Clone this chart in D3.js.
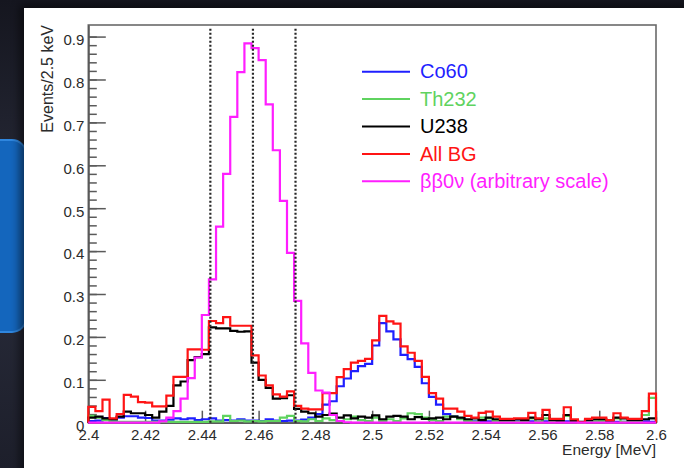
<!DOCTYPE html>
<html>
<head>
<meta charset="utf-8">
<script src="https://cdn.jsdelivr.net/npm/d3@7"></script>
<style>
  html, body { margin: 0; padding: 0; background: #1c1e2a; }
  svg { display: block; font-family: "Liberation Sans", Arial, Helvetica, sans-serif; }
  .axis text { fill: #2b2b2b; font-size: 15px; }
  .axis line, .axis path { stroke: #5a5a5a; stroke-width: 1.5; }
  .hist { fill: none; stroke-width: 2.2; }
</style>
</head>
<body>
<div class="chart"></div>
<script>
/* global d3 */

// binning: 80 bins of 2.5 keV from 2.4 to 2.6 MeV
const binLow = 2.4
const binWidth = 0.0025

const co60 = [
  0.004, 0.005, 0.011, 0.006, 0.012, 0.015, 0.015, 0.012, 0.011, 0.005,
  0.005, 0.007, 0.010, 0.008, 0.010, 0.006, 0.008, 0.010, 0.005, 0.006,
  0.005, 0.008, 0.005, 0.005, 0.004, 0.008, 0.005, 0.004, 0.005, 0.005,
  0.007, 0.012, 0.020, 0.042, 0.050, 0.085, 0.103, 0.120, 0.132, 0.137,
  0.180, 0.232, 0.213, 0.194, 0.158, 0.148, 0.130, 0.092, 0.060, 0.042,
  0.020, 0.015, 0.010, 0.006, 0.003, 0.003, 0.003, 0.002, 0.003, 0.002,
  0.003, 0.002, 0.003, 0.002, 0.003, 0.002, 0.002, 0.003, 0.002, 0.001,
  0.002, 0.002, 0.003, 0.002, 0.002, 0.002, 0.002, 0.002, 0.003, 0.002
]

const th232 = [
  0.016, 0.012, 0.006, 0.003, 0.002, 0.002, 0.002, 0.002, 0.002, 0.002,
  0.002, 0.002, 0.002, 0.002, 0.002, 0.002, 0.002, 0.003, 0.003, 0.016,
  0.004, 0.005, 0.003, 0.004, 0.003, 0.004, 0.004, 0.012, 0.016, 0.004,
  0.003, 0.008, 0.004, 0.010, 0.006, 0.004, 0.008, 0.014, 0.006, 0.004,
  0.012, 0.004, 0.008, 0.004, 0.010, 0.022, 0.020, 0.012, 0.006, 0.004,
  0.014, 0.014, 0.008, 0.004, 0.002, 0.012, 0.010, 0.004, 0.002, 0.002,
  0.002, 0.003, 0.010, 0.002, 0.010, 0.002, 0.003, 0.016, 0.002, 0.000,
  0.002, 0.003, 0.004, 0.001, 0.010, 0.002, 0.003, 0.003, 0.018, 0.058
]

const u238 = [
  0.012, 0.014, 0.010, 0.008, 0.014, 0.026, 0.022, 0.022, 0.018, 0.012,
  0.026, 0.039, 0.087, 0.096, 0.146, 0.153, 0.160, 0.222, 0.220, 0.220,
  0.214, 0.212, 0.213, 0.140, 0.100, 0.081, 0.056, 0.057, 0.064, 0.032,
  0.026, 0.022, 0.014, 0.018, 0.021, 0.012, 0.017, 0.010, 0.014, 0.012,
  0.017, 0.008, 0.014, 0.016, 0.014, 0.008, 0.013, 0.009, 0.010, 0.012,
  0.008, 0.014, 0.012, 0.008, 0.010, 0.006, 0.012, 0.008, 0.006, 0.006,
  0.008, 0.006, 0.012, 0.008, 0.018, 0.006, 0.005, 0.018, 0.005, 0.002,
  0.006, 0.008, 0.008, 0.005, 0.012, 0.010, 0.006, 0.006, 0.008, 0.010
]

const allBG = [
  0.037, 0.027, 0.054, 0.010, 0.020, 0.065, 0.061, 0.048, 0.047, 0.038,
  0.038, 0.063, 0.107, 0.107, 0.171, 0.171, 0.170, 0.237, 0.232, 0.246,
  0.226, 0.226, 0.226, 0.157, 0.110, 0.087, 0.066, 0.061, 0.073, 0.039,
  0.033, 0.031, 0.031, 0.069, 0.069, 0.106, 0.125, 0.140, 0.144, 0.149,
  0.192, 0.249, 0.236, 0.231, 0.178, 0.163, 0.144, 0.107, 0.069, 0.056,
  0.033, 0.033, 0.026, 0.016, 0.012, 0.023, 0.026, 0.014, 0.009, 0.009,
  0.010, 0.010, 0.023, 0.010, 0.030, 0.009, 0.009, 0.036, 0.008, 0.001,
  0.009, 0.012, 0.012, 0.006, 0.022, 0.012, 0.009, 0.009, 0.027, 0.068
]

const bb0v = [
  0.000, 0.000, 0.000, 0.000, 0.000, 0.000, 0.000, 0.000, 0.000, 0.000,
  0.003, 0.012, 0.027, 0.056, 0.104, 0.152, 0.251, 0.334, 0.457, 0.580,
  0.713, 0.817, 0.884, 0.873, 0.845, 0.742, 0.635, 0.517, 0.396, 0.284,
  0.185, 0.116, 0.075, 0.070, 0.018, 0.004, 0.001, 0.000, 0.000, 0.000,
  0.000, 0.000, 0.000, 0.000, 0.000, 0.000, 0.000, 0.000, 0.000, 0.000,
  0.000, 0.000, 0.000, 0.000, 0.000, 0.000, 0.000, 0.000, 0.000, 0.000,
  0.000, 0.000, 0.000, 0.000, 0.000, 0.000, 0.000, 0.000, 0.000, 0.000,
  0.000, 0.000, 0.000, 0.000, 0.000, 0.000, 0.000, 0.000, 0.000, 0.000
]

// ROI markers (MeV)
const roiLines = [2.443, 2.458, 2.473]

// tick labels
const xTicks = ["2.4", "2.42", "2.44", "2.46", "2.48", "2.5", "2.52", "2.54", "2.56", "2.58", "2.6"]
const yTicks = ["0", "0.1", "0.2", "0.3", "0.4", "0.5", "0.6", "0.7", "0.8", "0.9"]

const series = [
  { name: "Co60", values: co60, color: "#1f1fff" },
  { name: "Th232", values: th232, color: "#5fd35f" },
  { name: "U238", values: u238, color: "#000000" },
  { name: "All BG", values: allBG, color: "#ff1414" },
  { name: "ββ0ν (arbitrary scale)", values: bb0v, color: "#ff1eff" }
]

const width = 684
const height = 468
const margins = { top: 25, right: 28, bottom: 45.3, left: 88.3 }

const svg = d3.select('.chart')
  .append('svg')
  .attr('width', width)
  .attr('height', height)

// slide background
const defs = svg.append('defs')
const glow = defs.append('filter').attr('id', 'shadow').attr('x', '-10%').attr('y', '-10%').attr('width', '120%').attr('height', '120%')
glow.append('feGaussianBlur').attr('stdDeviation', 5)
const bgGrad = defs.append('linearGradient').attr('id', 'bg').attr('x1', 0).attr('y1', 0).attr('x2', 0).attr('y2', 1)
bgGrad.append('stop').attr('offset', '0%').attr('stop-color', '#15161f')
bgGrad.append('stop').attr('offset', '50%').attr('stop-color', '#2a2d3c')
bgGrad.append('stop').attr('offset', '100%').attr('stop-color', '#1d1f2b')

svg.append('rect').attr('width', width).attr('height', height).attr('fill', 'url(#bg)')
svg.append('rect')
  .attr('x', -20).attr('y', 140).attr('width', 46).attr('height', 192).attr('rx', 14)
  .attr('fill', '#1466bd').attr('stroke', '#2f86de').attr('stroke-width', 2)
svg.append('rect')
  .attr('x', 20).attr('y', 5).attr('width', 680).attr('height', 480)
  .attr('fill', '#000').attr('opacity', 0.55).attr('filter', 'url(#shadow)')
svg.append('rect')
  .attr('x', 24).attr('y', 8).attr('width', 670).attr('height', 470)
  .attr('fill', '#fff')

const innerWidth = width - margins.left - margins.right
const innerHeight = height - margins.top - margins.bottom

const plot = svg.append('g')
  .attr('transform', `translate(${margins.left}, ${margins.top})`)

const xScale = d3.scaleLinear()
  .domain([2.4, 2.6])
  .range([0, innerWidth])

const yScale = d3.scaleLinear()
  .domain([0, 0.927])
  .range([innerHeight, 0])

// frame
plot.append('rect')
  .attr('width', innerWidth)
  .attr('height', innerHeight)
  .attr('fill', 'none')
  .attr('stroke', '#6a6a6a')
  .attr('stroke-width', 1.6)

// y minor ticks (every 0.02)
plot.append('g')
  .attr('class', 'axis axis__yminor')
  .call(
    d3.axisLeft(yScale)
    .tickValues(d3.range(0, 46).map(i => i * 0.02))
    .tickSize(-8.5)
    .tickFormat('')
    .tickSizeOuter(0)
  )

// y major ticks + labels
plot.append('g')
  .attr('class', 'axis axis__y')
  .call(
    d3.axisLeft(yScale)
    .tickValues(yTicks.map(Number))
    .tickSize(-17.5)
    .tickPadding(4)
    .tickSizeOuter(0)
    .tickFormat((d, i) => yTicks[i])
  )
  .selectAll('text')
  .attr('dy', '0.52em')

// x ticks + labels
plot.append('g')
  .attr('class', 'axis axis__x')
  .attr('transform', `translate(0, ${innerHeight})`)
  .call(
    d3.axisBottom(xScale)
    .tickValues(xTicks.map(Number))
    .tickSize(-12)
    .tickPadding(7)
    .tickSizeOuter(0)
    .tickFormat((d, i) => xTicks[i])
  )

plot.selectAll('.axis .domain').attr('stroke', '#5a5a5a')

// histograms drawn as step outlines
const edges = d3.range(co60.length + 1).map(i => binLow + i * binWidth)
const stepLine = d3.line()
  .x(d => xScale(d[0]))
  .y(d => yScale(d[1]))
  .curve(d3.curveStepAfter)

const histPoints = values => [[edges[0], 0]]
  .concat(values.map((v, i) => [edges[i], v]))
  .concat([[edges[edges.length - 1], values[values.length - 1]], [edges[edges.length - 1], 0]])

plot.selectAll('.hist')
  .data(series)
  .join('path')
  .attr('class', 'hist')
  .attr('stroke', d => d.color)
  .attr('d', d => stepLine(histPoints(d.values)))

// ROI dashed lines
plot.selectAll('.roi')
  .data(roiLines)
  .join('line')
  .attr('class', 'roi')
  .attr('x1', d => xScale(d))
  .attr('x2', d => xScale(d))
  .attr('y1', yScale(0.918))
  .attr('y2', yScale(0))
  .attr('stroke', '#262626')
  .attr('stroke-width', 2.2)
  .attr('stroke-dasharray', '2,2')

// axis titles
svg.append('text')
  .attr('x', margins.left + innerWidth)
  .attr('y', 455)
  .attr('text-anchor', 'end')
  .attr('fill', '#2b2b2b')
  .style('font-size', '15.5px')
  .text('Energy [MeV]')

svg.append('text')
  .attr('transform', `translate(53, ${margins.top}) rotate(-90)`)
  .attr('text-anchor', 'end')
  .attr('fill', '#2b2b2b')
  .style('font-size', '16px')
  .text('Events/2.5 keV')

// legend
const legend = svg.append('g')
  .attr('transform', 'translate(362, 71.7)')

const rows = legend.selectAll('g')
  .data(series)
  .join('g')
  .attr('transform', (d, i) => `translate(0, ${i * 27.4})`)

rows.append('line')
  .attr('x1', 0)
  .attr('x2', 48)
  .attr('stroke', d => d.color)
  .attr('stroke-width', 2)

rows.append('text')
  .attr('x', 58)
  .attr('dy', 6.6)
  .attr('fill', d => d.color)
  .style('font-size', '20px')
  .text(d => d.name)
</script>
</body>
</html>
